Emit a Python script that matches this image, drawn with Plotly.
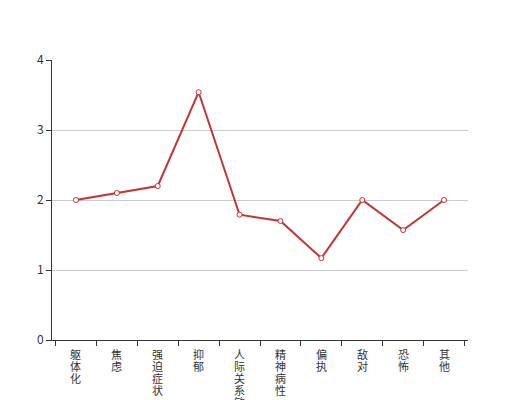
import plotly.graph_objects as go

categories = ["躯体化", "焦虑", "强迫症状", "抑郁", "人际关系敏感", "精神病性", "偏执", "敌对", "恐怖", "其他"]
values = [2.0, 2.1, 2.2, 3.54, 1.79, 1.70, 1.17, 2.0, 1.57, 2.0]
y_ticks = [0, 1, 2, 3, 4]

# page body has 8px margin -> offset margins
OFF = 8
fig = go.Figure()
fig.add_trace(go.Scatter(
    x=categories, y=values, mode="lines+markers",
    line=dict(color="#c23531", width=2),
    marker=dict(symbol="circle", size=5, color="white", line=dict(color="#c23531", width=1)),
    showlegend=False,
))

annotations = []
for c in categories:
    for i, ch in enumerate(c):
        annotations.append(dict(
            x=c, xref="x", y=0, yref="paper", yanchor="top", xanchor="center",
            yshift=-5 - i * 12, text=ch, showarrow=False,
            font=dict(size=11, color="#333", family="Noto Sans CJK SC, sans-serif"),
            borderpad=0,
        ))

fig.update_layout(
    width=520, height=400,
    margin=dict(l=52 - OFF, r=52 + OFF, t=60 - OFF, b=60 + OFF),
    paper_bgcolor="white", plot_bgcolor="white",
    font=dict(family="Noto Sans CJK SC, sans-serif", size=12, color="#333"),
    annotations=annotations,
)
fig.update_xaxes(
    type="category", tickson="boundaries", ticks="outside", ticklen=5, tickcolor="#333",
    showline=True, linecolor="#333", linewidth=1, showgrid=False, automargin=False,
    showticklabels=False,
)
fig.update_yaxes(
    range=[0, 4], tickvals=y_ticks, ticks="outside", ticklen=5, tickcolor="#333",
    showline=True, linecolor="#333", linewidth=1, showgrid=True, gridcolor="#ccc",
    zeroline=False, automargin=False, tickfont=dict(size=12, color="#333"),
)

fig.write_html("out.html")
